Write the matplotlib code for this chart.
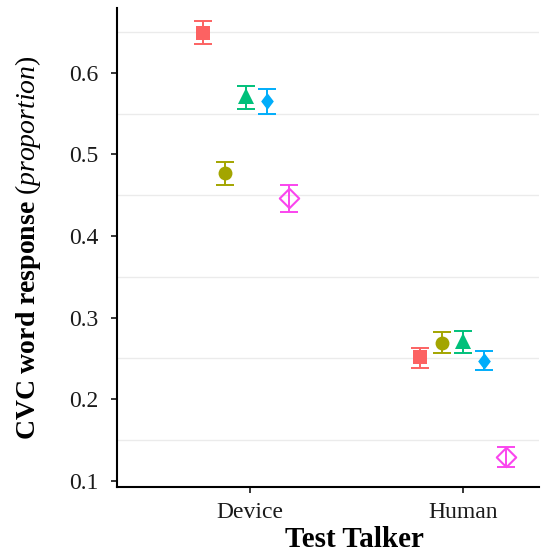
import numpy as np
import matplotlib
matplotlib.use('Agg')
import matplotlib.pyplot as plt
from matplotlib.ticker import FixedLocator

plt.rcParams['font.family'] = ['Liberation Serif', 'DejaVu Serif']
plt.rcParams['mathtext.fontset'] = 'custom'
plt.rcParams['mathtext.rm'] = 'Liberation Serif'
plt.rcParams['mathtext.it'] = 'Liberation Serif:italic'
plt.rcParams['mathtext.bf'] = 'Liberation Serif:bold'

# data
talkers = ['Device', 'Human']
groups = ['G1', 'G2', 'G3', 'G4', 'G5']
mean_device = [0.649, 0.477, 0.571, 0.565, 0.446]
lo_device = [0.635, 0.463, 0.556, 0.550, 0.429]
hi_device = [0.663, 0.491, 0.584, 0.580, 0.463]
mean_human = [0.251, 0.269, 0.271, 0.247, 0.129]
lo_human = [0.238, 0.257, 0.257, 0.236, 0.117]
hi_human = [0.263, 0.282, 0.283, 0.259, 0.141]

colors = ['#FC6262', '#A3A500', '#00C07A', '#00ADFA', '#FA45EE']
diamond = [(0, 1), (0.76, 0), (0, -1), (-0.76, 0), (0, 1)]
open_diamond = [(0, 1), (1, 0), (0, -1), (-1, 0), (0, 1)]
markers = ['s', 'o', '^', diamond, open_diamond]
msizes = [10, 10, 11.5, 12, 14]
filled = [True, True, True, True, False]
dodge = np.array([-0.2, -0.1, 0.0, 0.1, 0.2])
centers = [0.981, 2.0]  # dodge centres per talker (Device sits a bit left of its tick)

fig = plt.figure(figsize=(5.42, 5.53), dpi=100)
ax = fig.add_axes([0.2153, 0.1188, 0.9945 - 0.2153, 0.985 - 0.1188])

means = [mean_device, mean_human]
los = [lo_device, lo_human]
his = [hi_device, hi_human]
for t in range(2):
    for g in range(5):
        x = centers[t] + dodge[g]
        m = means[t][g]
        yerr = [[m - los[t][g]], [his[t][g] - m]]
        ax.errorbar([x], [m], yerr=yerr, fmt='none', ecolor=colors[g],
                    elinewidth=1.4, capsize=6.5, capthick=1.4, zorder=3)
        ax.plot([x], [m], marker=markers[g], markersize=msizes[g], linestyle='none',
                markerfacecolor=colors[g] if filled[g] else 'none',
                markeredgecolor=colors[g], markeredgewidth=0 if filled[g] else 1.5,
                zorder=4)

ax.set_xlim(0.374, 2.357)
ax.set_ylim(0.0919, 0.679)
ax.set_xticks([1, 2])
ax.set_xticklabels(talkers)
ax.set_yticks([0.1, 0.2, 0.3, 0.4, 0.5, 0.6])
ax.set_yticklabels(['0.1', '0.2', '0.3', '0.4', '0.5', '0.6'])
ax.yaxis.set_minor_locator(FixedLocator([0.15, 0.25, 0.35, 0.45, 0.55, 0.65]))
ax.grid(which='minor', axis='y', color='#EBEBEB', linewidth=1.0, zorder=0)
ax.set_axisbelow(True)
ax.tick_params(which='minor', length=0)
ax.tick_params(axis='x', which='major', length=4.5, width=1.1, color='black',
               labelsize=17, pad=6, labelcolor='#1a1a1a')
ax.tick_params(axis='y', which='major', length=4.5, width=1.1, color='black',
               labelsize=17, pad=8.5, labelcolor='#1a1a1a')

for s in ['top', 'right']:
    ax.spines[s].set_visible(False)
for s in ['left', 'bottom']:
    ax.spines[s].set_linewidth(1.5)

ax.set_xlabel('Test Talker', fontsize=21, fontweight='bold')
ax.xaxis.set_label_coords(0.562, -0.080, transform=ax.transAxes)
ax.xaxis.label.set_verticalalignment('top')
ax.set_ylabel(r'$\mathbf{CVC\ word\ response}\ \mathit{(proportion)}$', fontsize=20, labelpad=19)

fig.savefig('out.png', dpi=100)
